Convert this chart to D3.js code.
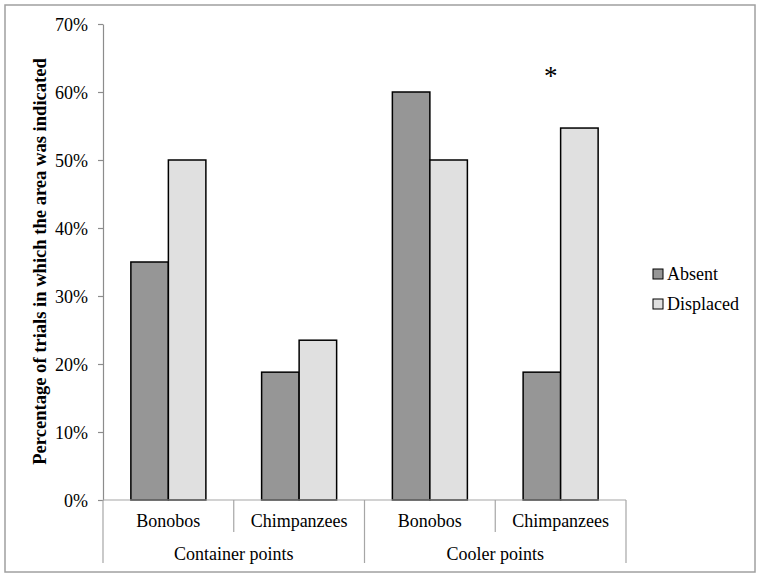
<!DOCTYPE html>
<html>
<head>
<meta charset="utf-8">
<script src="https://cdn.jsdelivr.net/npm/d3@7"></script>
<style>
  html, body { margin: 0; padding: 0; background: #fff; }
  svg { display: block; }
  text { font-family: "Liberation Serif", "Times New Roman", serif; fill: #000; }
</style>
</head>
<body>
<script>
// ---- data ----
const groups = ["Container points", "Cooler points"];
const subcats = ["Bonobos", "Chimpanzees"];
const series = ["Absent", "Displaced"];
const absentValues = [35, 18.8, 60, 18.8];
const displacedValues = [50, 23.5, 50, 54.7];
const yTickValues = [0, 10, 20, 30, 40, 50, 60, 70];
const yTickLabels = ["0%", "10%", "20%", "30%", "40%", "50%", "60%", "70%"];
const yTitle = "Percentage of trials in which the area was indicated";
const significanceMarks = [{ category: 3, text: "*", value: 61.0 }];

const colors = { Absent: "#969696", Displaced: "#e0e0e0" };

// ---- layout ----
const W = 762, H = 579;
const plot = { left: 103, right: 626, top: 24, bottom: 500 };
const fontSize = 18;

const svg = d3.select("body").append("svg").attr("width", W).attr("height", H);

// outer frame
svg.append("rect").attr("x", 5).attr("y", 5).attr("width", 750).attr("height", 567)
  .attr("fill", "#fff").attr("stroke", "#a0a0a0").attr("stroke-width", 1.5);

// categories (leaf level)
const cats = [];
groups.forEach((g, gi) => subcats.forEach((s, si) => cats.push({ group: g, sub: s, idx: gi * subcats.length + si })));

const x = d3.scaleBand().domain(cats.map(d => d.idx)).range([plot.left, plot.right]).paddingInner(0).paddingOuter(0);
const xs = d3.scaleBand().domain(series).range([0, x.bandwidth()]).paddingInner(0).paddingOuter(0.743);
const y = d3.scaleLinear().domain([0, 70]).range([plot.bottom, plot.top]);

// y axis
const yAxis = d3.axisLeft(y).tickValues(yTickValues).tickFormat((d, i) => yTickLabels[i]).tickSize(5).tickSizeOuter(0);
const gy = svg.append("g").attr("transform", `translate(${plot.left},0)`).call(yAxis);
gy.attr("font-family", null).attr("font-size", null);
gy.select(".domain").attr("stroke", "#8c8c8c").attr("stroke-width", 1.2);
gy.selectAll(".tick line").attr("stroke", "#8c8c8c").attr("stroke-width", 1.2);
gy.selectAll(".tick text").attr("font-size", fontSize)
  .attr("x", -15).attr("dy", "0.34em").attr("fill", "#000");

// y title
const yt = svg.append("text")
  .attr("transform", `translate(46,${(58 + 465) / 2}) rotate(-90)`)
  .attr("text-anchor", "middle")
  .attr("font-weight", "bold")
  .attr("font-size", 17)
  .text(yTitle);
const targetLen = 407;
const len = yt.node().getComputedTextLength();
yt.attr("font-size", 17 * targetLen / len);

// bars
const rows = cats.map(c => ({ idx: c.idx, Absent: absentValues[c.idx], Displaced: displacedValues[c.idx] }));
const gBars = svg.append("g");
rows.forEach(r => {
  series.forEach(s => {
    gBars.append("rect")
      .attr("x", x(r.idx) + xs(s))
      .attr("y", y(r[s]))
      .attr("width", xs.bandwidth())
      .attr("height", y(0) - y(r[s]))
      .attr("fill", colors[s])
      .attr("stroke", "#000")
      .attr("stroke-width", 1.5);
  });
});

// category axis (multi-level)
const axisColor = "#a6a6a6";
const ga = svg.append("g");
ga.append("line").attr("x1", plot.left).attr("x2", plot.right).attr("y1", plot.bottom).attr("y2", plot.bottom)
  .attr("stroke", axisColor).attr("stroke-width", 1.2);
cats.forEach((c, i) => {
  const xx = x(c.idx);
  const isGroupEdge = (i % subcats.length) === 0;
  ga.append("line").attr("x1", xx).attr("x2", xx).attr("y1", plot.bottom)
    .attr("y2", isGroupEdge ? 563 : 532).attr("stroke", axisColor).attr("stroke-width", 1.2);
});
ga.append("line").attr("x1", plot.right).attr("x2", plot.right).attr("y1", plot.bottom).attr("y2", 563)
  .attr("stroke", axisColor).attr("stroke-width", 1.2);
cats.forEach(c => {
  ga.append("text").attr("x", x(c.idx) + x.bandwidth() / 2).attr("y", 527)
    .attr("text-anchor", "middle").attr("font-size", fontSize).text(c.sub);
});
groups.forEach((g, gi) => {
  const first = x(gi * subcats.length);
  const last = x(gi * subcats.length + subcats.length - 1) + x.bandwidth();
  ga.append("text").attr("x", (first + last) / 2).attr("y", 560)
    .attr("text-anchor", "middle").attr("font-size", fontSize).text(g);
});

// significance marks
significanceMarks.forEach(m => {
  svg.append("text").attr("x", x(m.category) + x.bandwidth() / 2 - 10).attr("y", y(m.value))
    .attr("text-anchor", "middle").attr("font-size", 27).text(m.text);
});

// legend
const lg = svg.append("g").attr("transform", "translate(653,269)");
series.forEach((s, i) => {
  lg.append("rect").attr("x", 0).attr("y", i * 30).attr("width", 10).attr("height", 10)
    .attr("fill", colors[s]).attr("stroke", "#000").attr("stroke-width", 1);
  lg.append("text").attr("x", 14).attr("y", i * 30 + 10.5).attr("font-size", fontSize).text(s);
});
</script>
</body>
</html>
